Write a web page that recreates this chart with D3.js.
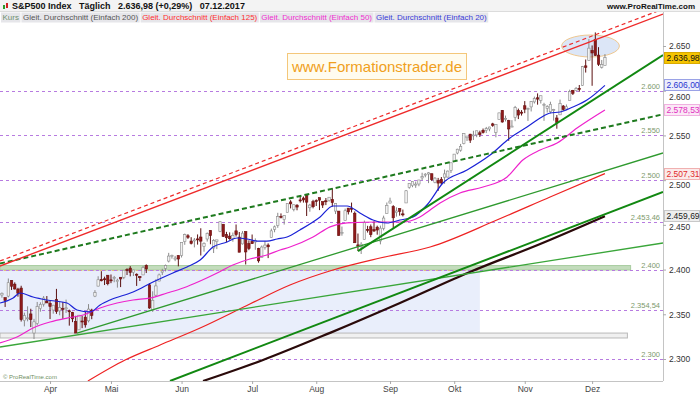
<!DOCTYPE html>
<html>
<head>
<meta charset="utf-8">
<script src="https://cdn.jsdelivr.net/npm/d3@7"></script>
<style>
  body { margin: 0; background: #fff; }
  svg { display: block; font-family: "Liberation Sans", Arial, sans-serif; }
</style>
</head>
<body>
<svg id="chart" width="700" height="394"></svg>
<script>
// ---- data (S&P500 daily, 10.03.2017 - 07.12.2017) ----
var dates = [
  '03-10','03-13','03-14','03-15','03-16','03-17','03-20','03-21','03-22','03-23','03-24','03-27','03-28','03-29','03-30','03-31',
  '04-03','04-04','04-05','04-06','04-07','04-10','04-11','04-12','04-13','04-17','04-18','04-19','04-20','04-21','04-24','04-25','04-26','04-27','04-28',
  '05-01','05-02','05-03','05-04','05-05','05-08','05-09','05-10','05-11','05-12','05-15','05-16','05-17','05-18','05-19','05-22','05-23','05-24','05-25','05-26','05-30','05-31',
  '06-01','06-02','06-05','06-06','06-07','06-08','06-09','06-12','06-13','06-14','06-15','06-16','06-19','06-20','06-21','06-22','06-23','06-26','06-27','06-28','06-29','06-30',
  '07-03','07-05','07-06','07-07','07-10','07-11','07-12','07-13','07-14','07-17','07-18','07-19','07-20','07-21','07-24','07-25','07-26','07-27','07-28','07-31',
  '08-01','08-02','08-03','08-04','08-07','08-08','08-09','08-10','08-11','08-14','08-15','08-16','08-17','08-18','08-21','08-22','08-23','08-24','08-25','08-28','08-29','08-30','08-31',
  '09-01','09-05','09-06','09-07','09-08','09-11','09-12','09-13','09-14','09-15','09-18','09-19','09-20','09-21','09-22','09-25','09-26','09-27','09-28','09-29',
  '10-02','10-03','10-04','10-05','10-06','10-09','10-10','10-11','10-12','10-13','10-16','10-17','10-18','10-19','10-20','10-23','10-24','10-25','10-26','10-27','10-30','10-31',
  '11-01','11-02','11-03','11-06','11-07','11-08','11-09','11-10','11-13','11-14','11-15','11-16','11-17','11-20','11-21','11-22','11-24','11-27','11-28','11-29','11-30',
  '12-01','12-04','12-05','12-06','12-07'
];
var open = [
  2372.5,2371.6,2368.6,2370.3,2387.7,2383.7,2378.2,2379.3,2343.0,2346.0,2350.4,2329.1,2339.8,2356.5,2361.3,2364.8,
  2362.3,2354.8,2366.6,2353.8,2356.6,2357.2,2353.9,2352.2,2342.0,2332.6,2342.5,2346.8,2342.7,2354.7,2370.3,2381.5,2389.0,2389.7,2393.7,
  2388.5,2391.1,2386.5,2391.4,2391.4,2399.9,2401.6,2396.8,2394.8,2392.4,2394.0,2404.6,2383.0,2354.7,2371.4,2387.2,2397.0,2401.4,2409.5,2414.5,2411.7,2415.6,
  2415.7,2431.3,2437.8,2431.9,2432.0,2434.3,2436.4,2425.9,2434.2,2443.8,2424.1,2431.2,2442.6,2450.7,2439.3,2437.4,2434.7,2443.3,2436.3,2428.7,2442.4,2429.2,
  2431.4,2430.8,2423.4,2413.5,2424.5,2427.4,2435.8,2445.0,2449.2,2459.5,2455.9,2463.9,2475.6,2467.4,2472.0,2477.9,2480.0,2482.8,2469.1,2475.9,
  2477.1,2480.4,2476.0,2476.9,2477.1,2478.4,2465.4,2465.4,2441.0,2455.0,2468.7,2468.6,2463.0,2427.6,2425.5,2433.8,2444.9,2447.9,2444.7,2447.4,2431.9,2446.1,2462.7,
  2474.4,2470.4,2463.8,2468.1,2462.3,2474.5,2491.9,2493.9,2494.6,2495.7,2502.5,2506.3,2506.8,2507.2,2497.3,2499.4,2501.0,2503.3,2503.4,2510.9,
  2521.2,2530.3,2533.5,2540.9,2547.4,2551.4,2550.0,2550.6,2552.9,2555.7,2555.6,2557.2,2562.9,2553.4,2567.6,2578.1,2568.7,2566.5,2560.1,2570.3,2577.8,2576.0,
  2583.2,2579.5,2581.9,2587.5,2592.1,2589.2,2584.0,2580.2,2576.5,2577.8,2569.5,2573.0,2582.9,2579.5,2589.2,2600.3,2600.4,2602.7,2605.9,2627.8,2633.9,
  2645.1,2657.2,2639.8,2626.2,2628.4
];
var high = [
  2376.9,2374.4,2368.6,2390.0,2388.1,2385.7,2379.6,2381.9,2351.8,2358.9,2356.2,2344.9,2363.8,2363.4,2370.4,2370.4,
  2365.9,2360.5,2378.4,2364.2,2363.8,2366.4,2355.2,2352.7,2348.3,2349.1,2348.4,2352.6,2361.4,2356.2,2377.0,2392.5,2398.2,2392.1,2393.7,
  2394.5,2392.9,2389.8,2391.4,2399.3,2401.4,2403.9,2399.7,2395.7,2392.4,2404.1,2405.8,2384.9,2375.7,2389.1,2395.5,2400.9,2405.6,2418.7,2416.7,2415.3,2416.0,
  2430.1,2440.2,2439.6,2436.2,2435.3,2439.3,2446.2,2430.4,2441.5,2443.8,2434.0,2433.2,2453.8,2450.7,2442.2,2441.6,2441.4,2450.4,2442.0,2443.0,2442.7,2432.7,
  2439.2,2434.9,2424.3,2426.9,2432.0,2429.3,2445.8,2449.3,2463.5,2462.8,2460.9,2473.8,2477.6,2472.5,2473.1,2481.2,2481.7,2484.0,2473.5,2478.0,
  2478.5,2480.4,2476.0,2480.0,2481.0,2490.9,2474.4,2465.4,2448.1,2468.2,2468.9,2474.9,2465.0,2440.3,2430.6,2454.8,2448.9,2450.4,2454.0,2449.1,2449.2,2460.3,2475.0,
  2480.4,2472.0,2469.6,2468.6,2467.1,2489.0,2496.8,2498.4,2498.4,2500.2,2508.3,2507.8,2508.9,2507.2,2503.5,2502.5,2503.5,2511.8,2510.8,2519.4,
  2529.2,2535.1,2540.5,2552.5,2549.4,2551.8,2555.2,2555.2,2555.3,2557.7,2559.5,2559.7,2564.1,2562.4,2575.4,2578.3,2572.2,2567.4,2567.1,2583.0,2580.0,2578.3,
  2588.4,2581.1,2588.4,2593.4,2597.0,2594.4,2586.5,2583.8,2587.7,2579.7,2572.8,2590.1,2584.0,2584.6,2601.2,2600.9,2604.2,2606.4,2627.7,2634.9,2657.7,
  2650.6,2665.2,2648.7,2634.4,2641.0
];
var low = [
  2363.0,2368.5,2358.2,2368.9,2377.2,2377.6,2369.7,2341.9,2336.5,2342.1,2335.7,2322.3,2337.6,2352.9,2358.6,2362.6,
  2344.7,2350.7,2350.5,2348.9,2344.8,2351.5,2337.3,2341.2,2329.0,2332.5,2334.5,2335.1,2340.9,2344.5,2369.2,2381.2,2386.8,2382.7,2382.4,
  2384.8,2385.8,2379.8,2380.4,2389.3,2393.9,2392.4,2392.8,2381.7,2387.2,2393.9,2396.1,2356.2,2352.7,2370.4,2386.9,2393.9,2398.0,2408.0,2412.2,2409.4,2403.6,
  2413.5,2427.7,2434.3,2428.1,2424.8,2427.9,2415.7,2420.0,2431.3,2428.3,2418.5,2422.9,2441.8,2436.6,2430.7,2433.3,2431.1,2437.0,2419.4,2428.0,2405.7,2421.7,
  2428.7,2422.1,2407.7,2413.5,2422.3,2412.8,2435.8,2441.7,2446.7,2457.2,2450.3,2463.9,2468.4,2465.1,2466.3,2474.9,2474.9,2459.9,2464.7,2468.5,
  2471.1,2466.5,2468.9,2472.1,2475.9,2470.3,2462.1,2437.8,2437.9,2455.0,2461.6,2463.9,2430.0,2420.7,2417.4,2433.7,2441.4,2436.2,2442.2,2439.0,2428.2,2443.8,2462.7,
  2473.9,2446.6,2459.2,2460.3,2459.4,2474.5,2490.4,2492.1,2491.4,2493.2,2499.9,2503.2,2496.7,2499.0,2496.5,2488.0,2495.1,2495.9,2502.9,2508.0,
  2520.4,2528.9,2531.8,2540.0,2543.8,2541.6,2544.9,2548.0,2548.3,2552.1,2552.6,2554.7,2559.7,2547.9,2567.6,2564.3,2565.6,2544.0,2559.8,2565.9,2568.3,2572.2,
  2574.9,2566.2,2576.8,2585.7,2584.4,2585.7,2566.3,2575.6,2574.5,2566.6,2557.5,2573.0,2577.6,2578.2,2589.2,2595.2,2600.4,2598.9,2605.4,2620.3,2633.9,
  2605.5,2639.0,2627.7,2624.8,2628.4
];
var close = [
  2372.6,2373.5,2365.5,2385.3,2381.4,2378.3,2373.5,2344.0,2348.5,2346.0,2344.0,2341.6,2358.6,2361.1,2368.1,2362.7,
  2358.8,2360.2,2353.0,2357.5,2355.5,2357.2,2353.8,2344.9,2329.0,2349.0,2342.2,2338.2,2355.8,2348.7,2374.2,2388.6,2387.5,2388.8,2384.2,
  2388.3,2391.2,2388.1,2389.5,2399.3,2399.4,2396.9,2399.6,2394.4,2390.9,2402.3,2400.7,2357.0,2365.7,2381.7,2394.0,2398.4,2404.4,2415.1,2415.8,2412.9,2411.8,
  2430.1,2439.1,2436.1,2429.3,2433.1,2433.8,2431.8,2429.4,2440.4,2437.9,2432.5,2433.2,2453.5,2437.0,2435.6,2434.5,2438.3,2439.1,2419.4,2440.7,2419.7,2423.4,
  2429.0,2432.5,2409.8,2425.2,2427.4,2425.5,2443.3,2447.8,2459.3,2459.1,2460.6,2473.8,2473.5,2472.5,2469.9,2477.1,2477.8,2475.4,2472.1,2470.3,
  2476.4,2477.6,2472.2,2476.8,2480.9,2474.9,2474.0,2438.2,2441.3,2465.8,2464.6,2468.1,2430.0,2425.6,2428.4,2452.5,2444.0,2439.0,2443.1,2444.2,2446.3,2457.6,2471.7,
  2476.6,2457.9,2465.5,2465.1,2461.4,2488.1,2496.5,2498.4,2495.6,2500.2,2503.9,2506.7,2508.2,2500.6,2502.2,2496.7,2496.8,2507.0,2510.1,2519.4,
  2529.1,2534.6,2537.7,2552.1,2549.3,2544.7,2550.6,2555.2,2550.9,2553.2,2557.6,2559.4,2561.3,2562.1,2575.2,2565.0,2569.1,2557.2,2560.4,2581.1,2572.8,2575.3,
  2579.4,2579.9,2587.8,2591.1,2590.6,2594.4,2584.6,2582.3,2584.8,2578.9,2564.6,2585.6,2578.9,2582.1,2599.0,2597.1,2602.4,2601.4,2627.0,2626.1,2647.6,
  2642.2,2639.4,2629.6,2629.3,2637.0
];

// moving averages: [bar index, price]
var ma20 = [[0.4,2362.6],[4.5,2368.2],[6.6,2373.8],[10.7,2369.3],[15,2366.0],[21.3,2362.6],[24.4,2354.8],[28.5,2352.6],[31.6,2360.4],[34.7,2366.0],
  [41.9,2374.9],[48.1,2386.1],[54.3,2396.2],[58.7,2402.9],[62.8,2410.7],[66.8,2425.2],[71.2,2430.8],[74.3,2435.3],[77.4,2434.2],[80.5,2431.9],
  [83.6,2431.9],[86.8,2434.2],[89.9,2436.4],[93.9,2444.3],[100.2,2458.8],[104.2,2471.1],[108.6,2471.1],[112.6,2463.3],[116.7,2455.4],[121,2452.1],
  [125.1,2455.4],[129.2,2458.8],[133.5,2472.2],[138.5,2496.8],[146,2511.3],[153.2,2528.1],[159.4,2547.1],[164.7,2559.4],[168.8,2569.5],[171.9,2575.1],
  [175,2576.2],[179,2581.8],[183.4,2589.6],[189,2606.0]];
var ma50 = [[0.4,2317.9],[5.7,2324.6],[10.7,2334.7],[16,2341.4],[21.3,2345.8],[26.3,2349.2],[31.6,2357.0],[36.9,2362.6],[41.9,2366.0],[47.2,2368.2],
  [52.5,2373.8],[57.5,2379.4],[62.8,2387.2],[68.1,2396.2],[73,2405.1],[78.3,2411.8],[83.6,2416.3],[87.7,2421.9],[90.8,2425.2],[98,2436.4],
  [103.3,2447.8],[108.6,2452.2],[118.9,2453.2],[126,2453.2],[131.3,2458.8],[134.5,2466.6],[137.6,2474.4],[143.8,2485.6],[151,2492.3],[158.5,2503.5],
  [163.4,2522.5],[168.8,2533.7],[174.1,2541.5],[180.3,2558.3],[189,2578.53]];
var ma125 = [[27.8,2275.4],[39.4,2298.9],[50.3,2315.7],[62.8,2334.7],[78.3,2361.5],[90.8,2382.7],[104.2,2399.5],[118.9,2412.9],[134.5,2425.2],
  [155.3,2455.4],[171.9,2481.1],[189,2507.31]];
var ma200 = [[63.7,2275.4],[82.4,2298.9],[103.3,2329.2],[125.1,2362.6],[146.9,2397.3],[168.8,2428.6],[189,2459.69]];

// hand drawn trend lines: [bar index, price] end points
var redDashedTrend = [[0.4,2409.6],[207.1,2691.3]];
var redTrend = [[0.4,2404.0],[207.1,2685.7]];
var greenDashedTrend = [[0.4,2406.8],[207.1,2573.6]];
var steepTrend = [[112,2420.7],[207.1,2639.9]];
var ma200Channel = [[53.4,2275.4],[207.1,2486.7]];
var aprilLowTrend = [[24.4,2329.0],[207.1,2530.4]];
var flatTrend = [[0.4,2313.4],[207.1,2429.7]];

// horizontal levels and zones
var levels = [2600, 2550, 2500, 2453.46, 2400, 2354.54, 2300];
var blueZone = {from: 0.4, to: 150, top: 2399, bottom: 2327};
var greenBand = {from: 0.4, to: 197, top: 2404.5, bottom: 2399.5};
var greyBand = {from: 0.4, to: 196, top: 2329, bottom: 2323.5};
var highlight = {idx: 184.5, price: 2650, rx: 9, rp: 12.3};

var priceTicks = [2300, 2350, 2400, 2450, 2500, 2550, 2600, 2650];
var monthNames = ['Apr', 'Mai', 'Jun', 'Jul', 'Aug', 'Sep', 'Okt', 'Nov', 'Dez'];
var lastValues = [2636.98, 2606.00, 2578.53, 2507.31, 2459.69];

// ---- drawing ----
var svg = d3.select('#chart');
var plot = {l: 0, t: 12, r: 663, b: 381};
var de = d3.formatLocale({decimal: ',', thousands: '.', grouping: [3], currency: ['', '']});
var fmt0 = de.format(',.0f'), fmt2 = de.format(',.2f');

var x = d3.scaleLinear().domain([0.4, 207.1]).range([plot.l, plot.r]);
var y = d3.scaleLinear().domain([2300, 2650]).range([359, 46]);

svg.append('rect').attr('width', 700).attr('height', 394).attr('fill', '#fff');
svg.append('defs').append('clipPath').attr('id', 'clip')
  .append('rect').attr('x', plot.l).attr('y', plot.t)
  .attr('width', plot.r - plot.l).attr('height', plot.b - plot.t);

var g = svg.append('g').attr('clip-path', 'url(#clip)');

function zone(z, fill, stroke) {
  return g.append('rect')
    .attr('x', x(z.from)).attr('y', y(z.top))
    .attr('width', x(z.to) - x(z.from)).attr('height', y(z.bottom) - y(z.top))
    .attr('fill', fill).attr('stroke', stroke).attr('stroke-width', 1);
}
zone(blueZone, '#e9eefb', 'none');
zone(greenBand, '#c3dcbc', '#a9cca0');
zone(greyBand, '#f0f0f0', '#b8b8b8');
g.append('line')
  .attr('x1', x(blueZone.from)).attr('x2', x(blueZone.to))
  .attr('y1', y(blueZone.top)).attr('y2', y(blueZone.top))
  .attr('stroke', '#e8b878').attr('stroke-dasharray', '2,2').attr('stroke-width', 1);

// dashed level lines
g.selectAll('.lvl').data(levels).enter().append('line')
  .attr('x1', plot.l).attr('x2', plot.r)
  .attr('y1', d => Math.round(y(d)) + 0.5).attr('y2', d => Math.round(y(d)) + 0.5)
  .attr('stroke', '#b77be0').attr('stroke-dasharray', '3,3').attr('stroke-width', 1);

// highlight ellipse
g.append('ellipse')
  .attr('cx', x(highlight.idx)).attr('cy', y(highlight.price))
  .attr('rx', x(highlight.idx + highlight.rx) - x(highlight.idx))
  .attr('ry', y(highlight.price - highlight.rp) - y(highlight.price))
  .attr('fill', '#dce6f7').attr('stroke', '#f0c890').attr('stroke-width', 1);

// candles
var bw = 2.4;
var candles = g.selectAll('.candle').data(d3.range(dates.length)).enter().append('g');
candles.append('line')
  .attr('x1', i => x(i)).attr('x2', i => x(i))
  .attr('y1', i => y(high[i])).attr('y2', i => y(low[i]))
  .attr('stroke', i => close[i] >= open[i] ? '#8a8a8a' : '#5a1010').attr('stroke-width', 1);
candles.append('rect')
  .attr('x', i => x(i) - bw / 2)
  .attr('y', i => y(Math.max(open[i], close[i])))
  .attr('width', bw)
  .attr('height', i => Math.max(1, Math.abs(y(open[i]) - y(close[i]))))
  .attr('fill', i => close[i] >= open[i] ? '#f2f2f2' : '#8e1a1a')
  .attr('stroke', i => close[i] >= open[i] ? '#8a8a8a' : '#6a1010')
  .attr('stroke-width', 0.6);

// moving averages
var curve = d3.line().x(d => x(d[0])).y(d => y(d[1])).curve(d3.curveMonotoneX);
function path(data, color, width, dash) {
  g.append('path').datum(data).attr('d', curve)
    .attr('fill', 'none').attr('stroke', color).attr('stroke-width', width)
    .attr('stroke-dasharray', dash || null);
}
path(ma200, '#2a0a0a', 2.2);
path(ma125, '#ee2222', 1.2);
path(ma50, '#ee22cc', 1.2);
path(ma20, '#1a22d6', 1.2);

// trend lines
path(flatTrend, '#3aa63a', 1.3);
path(aprilLowTrend, '#2f9a2f', 1.3);
path(ma200Channel, '#118811', 2);
path(steepTrend, '#118811', 2);
path(greenDashedTrend, '#1e7a1e', 2, '5,3');
path(redTrend, '#ee2a2a', 1.4);
path(redDashedTrend, '#ee2a2a', 1.2, '4,3');

// level labels inside the plot
svg.selectAll('.lvlLabel').data(levels).enter().append('text')
  .attr('x', plot.r - 3).attr('y', d => y(d) - 2)
  .attr('text-anchor', 'end').attr('font-size', 7.5).attr('fill', '#7d9a6c')
  .text(d => d % 1 === 0 ? fmt0(d) : fmt2(d));

// watermark
svg.append('rect').attr('x', 287.5).attr('y', 53.5).attr('width', 179).attr('height', 26)
  .attr('fill', '#fffcef').attr('stroke', '#f4c77a');
svg.append('text').attr('x', 377).attr('y', 72).attr('text-anchor', 'middle')
  .attr('font-size', 15).attr('fill', '#f0a020').text('www.Formationstrader.de');

svg.append('text').attr('x', 3).attr('y', 379).attr('font-size', 6).attr('fill', '#6f8f5f')
  .text('© ProRealTime.com');

// frame
svg.append('line').attr('x1', plot.r + 0.5).attr('x2', plot.r + 0.5).attr('y1', plot.t).attr('y2', plot.b)
  .attr('stroke', '#c4c4c4');
svg.append('line').attr('x1', 0).attr('x2', plot.r).attr('y1', plot.b + 0.5).attr('y2', plot.b + 0.5)
  .attr('stroke', '#c4c4c4');

// axes
var monthStarts = [];
dates.forEach(function(d, i) {
  if (i > 0 && d.slice(0, 2) !== dates[i - 1].slice(0, 2)) monthStarts.push(i);
});
var xAxis = d3.axisBottom(x).tickValues(monthStarts).tickSize(3)
  .tickFormat((d, i) => monthNames[i]);
var xg = svg.append('g').attr('transform', 'translate(0,' + plot.b + ')').call(xAxis);
xg.select('.domain').remove();
xg.selectAll('line').attr('stroke', '#aaa');
xg.selectAll('text').attr('font-size', 8.5).attr('fill', '#444').attr('dy', '0.55em')
  .attr('font-family', '"Liberation Sans", Arial, sans-serif');

// price axis; labels hidden behind a value tag are left out
var covered = lastValues.map(v => y(v));
var yAxis = d3.axisRight(y).tickValues(priceTicks).tickSize(3).tickPadding(3).tickFormat(fmt0);
var yg = svg.append('g').attr('transform', 'translate(' + plot.r + ',0)').call(yAxis);
yg.select('.domain').remove();
yg.selectAll('line').attr('stroke', '#aaa');
yg.selectAll('text').attr('font-size', 8.5).attr('fill', '#333')
  .attr('font-family', '"Liberation Sans", Arial, sans-serif')
  .attr('dy', function(d) {
    var near = covered.filter(c => Math.abs(c - y(d)) < 11);
    if (!near.length) return '0.32em';
    return (near[0] < y(d) ? 0.32 + (11 - (y(d) - near[0])) / 8.5 : 0.32) + 'em';
  });

// value tags
var tagFill = ['#f5c400', '#eceefb', '#fbe8f6', '#fbeaea', '#eeeeee'];
var tagStroke = ['#d9aa00', '#9aa2e6', '#f0b0e0', '#f0b0b0', '#c8c8c8'];
var tagText = ['#111', '#2a34d0', '#e030c0', '#e02a2a', '#222'];
var tags = svg.selectAll('.tag').data(lastValues).enter().append('g')
  .attr('transform', d => 'translate(' + (plot.r + 1) + ',' + Math.round(y(d)) + ')');
tags.append('rect').attr('x', 0.5).attr('y', -5.5).attr('width', 35).attr('height', 11)
  .attr('fill', (d, i) => tagFill[i]).attr('stroke', (d, i) => tagStroke[i]);
tags.append('text').attr('x', 2.5).attr('y', 3.3).attr('font-size', 8.5)
  .attr('fill', (d, i) => tagText[i]).text(d => fmt2(d));

// header
svg.append('rect').attr('width', 700).attr('height', 11).attr('fill', '#f3f3f3');
svg.append('line').attr('x1', 0).attr('x2', 700).attr('y1', 11.5).attr('y2', 11.5).attr('stroke', '#dcdcdc');
svg.append('rect').attr('x', 3).attr('y', 5).attr('width', 2).attr('height', 4).attr('fill', '#2a9a2a');
svg.append('rect').attr('x', 6).attr('y', 3).attr('width', 2).attr('height', 5).attr('fill', '#d02020');
svg.append('text').attr('x', 12).attr('y', 8.5).attr('font-size', 9).attr('font-weight', 'bold')
  .attr('fill', '#111').attr('xml:space', 'preserve')
  .text('S&P500 Index   Täglich   2.636,98 (+0,29%)   07.12.2017');
svg.append('text').attr('x', 695).attr('y', 8.5).attr('text-anchor', 'end')
  .attr('font-size', 8).attr('font-weight', 'bold').attr('fill', '#111').text('www.ProRealTime.com');

// legend
var legendItems = ['Kurs', 'Gleit. Durchschnitt (Einfach 200)', 'Gleit. Durchschnitt (Einfach 125)',
  'Gleit. Durchschnitt (Einfach 50)', 'Gleit. Durchschnitt (Einfach 20)'];
var legendColors = ['#6f8f6f', '#555555', '#ff3030', '#f030d0', '#3a3ad8'];
var lx = 1;
legendItems.forEach(function(t, i) {
  var lg = svg.append('g');
  var bg = lg.append('rect').attr('y', 12.5).attr('height', 10).attr('fill', '#e6e6ea');
  var tx = lg.append('text').attr('x', lx + 1.5).attr('y', 20.3).attr('font-size', 8)
    .attr('fill', legendColors[i]).text(t);
  var w = tx.node().getComputedTextLength() + 3;
  bg.attr('x', lx).attr('width', w);
  lx += w + 1;
});
</script>
</body>
</html>
